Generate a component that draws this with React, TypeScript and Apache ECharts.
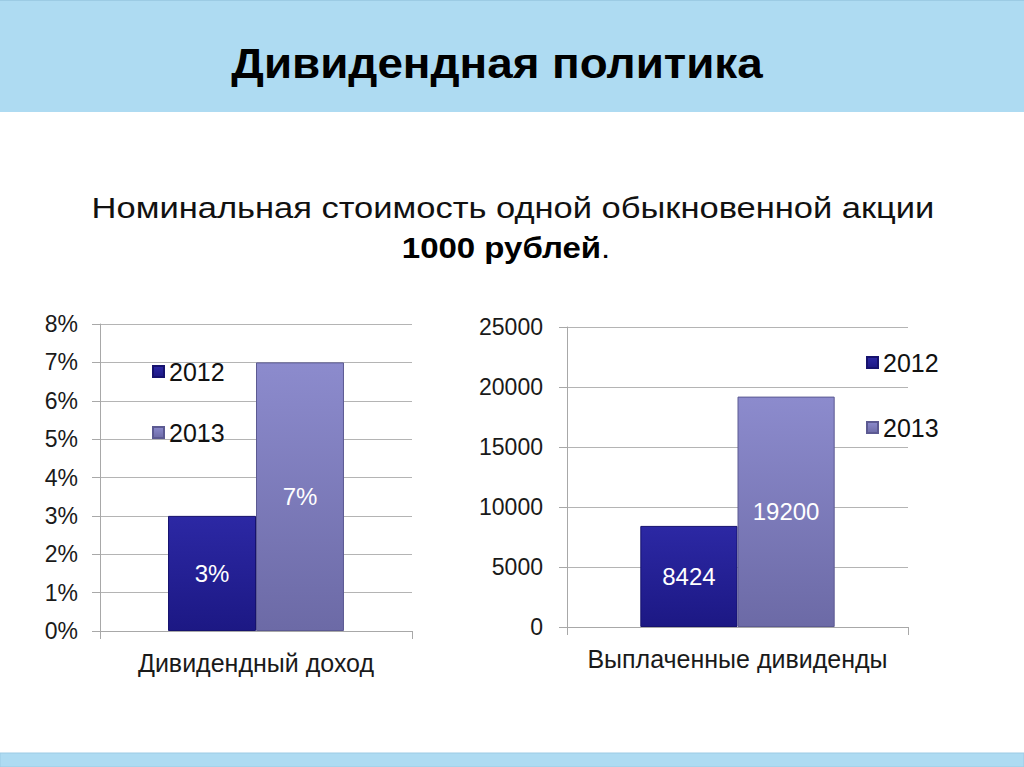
import React, { useEffect, useRef } from "react";
import * as echarts from "echarts";

const TITLE = "Дивидендная политика";
const SUBTITLE_1 = "Номинальная стоимость одной обыкновенной акции";
const SUBTITLE_BOLD = "1000 рублей";

const years = ["2012", "2013"];
const leftCategories = ["Дивидендный доход"];
const rightCategories = ["Выплаченные дивиденды"];
const dividendYield2012 = [3];
const dividendYield2013 = [7];
const paidDividends2012 = [8424];
const paidDividends2013 = [19200];
const leftAxisMax = 8;
const leftAxisStep = 1;
const rightAxisMax = 25000;
const rightAxisStep = 5000;

const FONT = "'Liberation Sans', Arial, sans-serif";

const grad = (top: string, bottom: string) =>
  new echarts.graphic.LinearGradient(0, 0, 0, 1, [
    { offset: 0, color: top },
    { offset: 1, color: bottom },
  ]);

const style2012 = () => ({
  color: grad("#2c28a4", "#1c1884"),
  borderColor: "#16126e",
  borderWidth: 1,
});
const style2013 = () => ({
  color: grad("#8c8bcd", "#6c6aa6"),
  borderColor: "#5c5a92",
  borderWidth: 1,
});

export default function App() {
  const ref = useRef<HTMLDivElement>(null);
  useEffect(() => {
    document.body.style.margin = "0";
    const chart = echarts.init(ref.current!, undefined, { renderer: "svg" });
    const axisLabelStyle = { color: "#1a1a1a", fontSize: 23, fontFamily: FONT };
    const gridLine = { lineStyle: { color: "#b4b4b4", width: 1 } };
    const axisLine = { show: true, lineStyle: { color: "#a8a8a8", width: 1 } };
    const axisTick = { show: true, length: 8, lineStyle: { color: "#a8a8a8" } };
    const barLabel = {
      show: true,
      position: "inside",
      color: "#ffffff",
      fontSize: 24,
      fontFamily: FONT,
    };
    const legendText = { fontSize: 25, fontFamily: FONT, color: "#111111" };
    const option: any = {
      animation: false,
      backgroundColor: "#ffffff",
      graphic: [
        {
          type: "rect",
          shape: { x: 0, y: 0, width: 1024, height: 112 },
          style: { fill: "#aedbf2" },
          silent: true,
        },
        {
          type: "rect",
          shape: { x: 0, y: 0, width: 1024, height: 1 },
          style: { fill: "#9ccbe4" },
          silent: true,
        },
        {
          type: "rect",
          shape: { x: 0, y: 753, width: 1024, height: 14 },
          style: { fill: "#aedbf2", stroke: "#9ccbe4", lineWidth: 1 },
          silent: true,
        },
        {
          type: "text",
          x: 497,
          y: 63,
          scaleX: 1.065,
          style: {
            text: TITLE,
            fontSize: 43,
            fontWeight: "bold",
            fontFamily: FONT,
            fill: "#000000",
            align: "center",
            verticalAlign: "middle",
          },
        },
        {
          type: "text",
          x: 513,
          y: 208,
          scaleX: 1.15,
          style: {
            text: SUBTITLE_1,
            fontSize: 30,
            fontFamily: FONT,
            fill: "#111111",
            align: "center",
            verticalAlign: "middle",
          },
        },
        {
          type: "text",
          x: 506,
          y: 248,
          scaleX: 1.1,
          style: {
            text: "{b|" + SUBTITLE_BOLD + "}{n|.}",
            align: "center",
            verticalAlign: "middle",
            rich: {
              b: { fontSize: 30, fontWeight: "bold", fontFamily: FONT, color: "#000000" },
              n: { fontSize: 30, fontFamily: FONT, color: "#111111" },
            },
          },
        },
      ],
      legend: [
        {
          data: years,
          orient: "vertical",
          left: 147,
          top: 354,
          itemWidth: 11,
          itemHeight: 11,
          itemGap: 36,
          itemTextGap: 8,
          selectedMode: false,
          icon: "rect",
          textStyle: legendText,
        },
        {
          data: years,
          orient: "vertical",
          left: 861,
          top: 345,
          itemWidth: 11,
          itemHeight: 11,
          itemGap: 40,
          itemTextGap: 7,
          selectedMode: false,
          icon: "rect",
          textStyle: legendText,
        },
      ],
      grid: [
        { left: 100, right: 612, top: 324, bottom: 136 },
        { left: 567, right: 116, top: 327, bottom: 140 },
      ],
      xAxis: [
        {
          type: "category",
          gridIndex: 0,
          data: leftCategories,
          axisLine,
          axisTick,
          axisLabel: { ...axisLabelStyle, fontSize: 25, margin: 19 },
        },
        {
          type: "category",
          gridIndex: 1,
          data: rightCategories,
          axisLine,
          axisTick,
          axisLabel: { ...axisLabelStyle, fontSize: 25, margin: 19 },
        },
      ],
      yAxis: [
        {
          type: "value",
          gridIndex: 0,
          min: 0,
          max: leftAxisMax,
          interval: leftAxisStep,
          axisLine,
          axisTick,
          splitLine: gridLine,
          axisLabel: { ...axisLabelStyle, margin: 22, formatter: "{value}%" },
        },
        {
          type: "value",
          gridIndex: 1,
          min: 0,
          max: rightAxisMax,
          interval: rightAxisStep,
          axisLine,
          axisTick,
          splitLine: gridLine,
          axisLabel: {
            ...axisLabelStyle,
            margin: 24,
            formatter: (v: number) => String(v),
          },
        },
      ],
      series: [
        {
          name: years[0],
          type: "bar",
          xAxisIndex: 0,
          yAxisIndex: 0,
          data: dividendYield2012,
          barGap: "0%",
          barCategoryGap: "43.6%",
          itemStyle: style2012(),
          label: { ...barLabel, formatter: "{c}%" },
        },
        {
          name: years[1],
          type: "bar",
          xAxisIndex: 0,
          yAxisIndex: 0,
          data: dividendYield2013,
          barGap: "0%",
          barCategoryGap: "43.6%",
          itemStyle: style2013(),
          label: { ...barLabel, formatter: "{c}%" },
        },
        {
          name: years[0],
          type: "bar",
          xAxisIndex: 1,
          yAxisIndex: 1,
          data: paidDividends2012,
          barGap: "0%",
          barCategoryGap: "43%",
          itemStyle: style2012(),
          label: barLabel,
        },
        {
          name: years[1],
          type: "bar",
          xAxisIndex: 1,
          yAxisIndex: 1,
          data: paidDividends2013,
          barGap: "0%",
          barCategoryGap: "43%",
          itemStyle: style2013(),
          label: barLabel,
        },
      ],
    };
    chart.setOption(option);
    return () => chart.dispose();
  }, []);
  return (
    <div
      ref={ref}
      style={{ position: "absolute", left: 0, top: 0, width: 1024, height: 767 }}
    />
  );
}
